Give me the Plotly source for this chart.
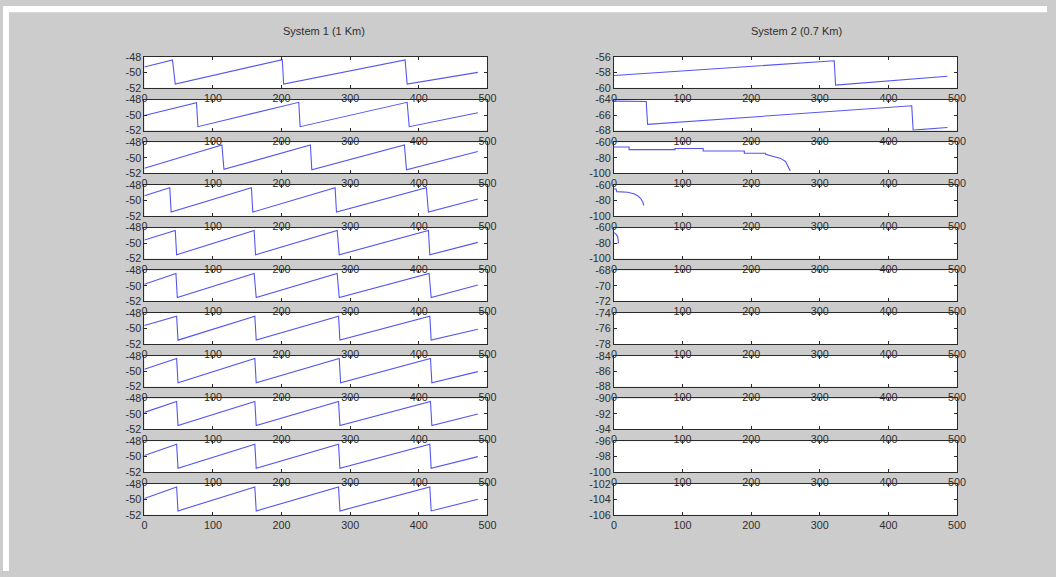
import plotly.graph_objects as go

W, H = 1056, 577

# ---------------- data ----------------
x_tick_vals = [0, 100, 200, 300, 400, 500]
x_tick_text = ["0", "100", "200", "300", "400", "500"]

titles = ["System 1 (1 Km)", "System 2 (0.7 Km)"]

# System 1 (left column) - sawtooth traces, vertices (x, dB)
s1_r1_x = [0, 41, 45, 201, 203, 380, 383, 486]
s1_r1_y = [-49.3, -48.4, -51.5, -48.35, -51.5, -48.4, -51.5, -50.0]
s1_r2_x = [0, 76, 78, 225, 227, 383, 386, 486]
s1_r2_y = [-50.05, -48.4, -51.5, -48.35, -51.5, -48.35, -51.5, -49.7]
s1_r3_x = [0, 113, 116, 242, 244, 379, 382, 486]
s1_r3_y = [-51.35, -48.35, -51.5, -48.35, -51.55, -48.35, -51.55, -49.2]
s1_r4_x = [0, 37, 39, 156, 158, 278, 280, 411, 414, 486]
s1_r4_y = [-49.4, -48.35, -51.5, -48.35, -51.5, -48.35, -51.5, -48.35, -51.5, -49.8]
s1_r5_x = [0, 45, 47, 160, 162, 281, 284, 414, 416, 486]
s1_r5_y = [-49.6, -48.35, -51.5, -48.35, -51.5, -48.35, -51.5, -48.35, -51.5, -49.9]
s1_r6_x = [0, 46, 48, 160, 163, 281, 284, 415, 418, 486]
s1_r6_y = [-49.8, -48.4, -51.5, -48.4, -51.5, -48.4, -51.5, -48.4, -51.5, -49.9]
s1_r7_x = [0, 47, 49, 161, 163, 283, 285, 416, 418, 486]
s1_r7_y = [-49.6, -48.4, -51.5, -48.4, -51.5, -48.4, -51.5, -48.4, -51.5, -50.1]
s1_r8_x = [0, 47, 49, 161, 163, 284, 286, 417, 419, 486]
s1_r8_y = [-49.75, -48.35, -51.5, -48.35, -51.5, -48.35, -51.5, -48.35, -51.5, -50.05]
s1_r9_x = [0, 47, 49, 161, 163, 283, 285, 417, 419, 486]
s1_r9_y = [-49.8, -48.4, -51.5, -48.4, -51.5, -48.4, -51.5, -48.4, -51.5, -50.0]
s1_r10_x = [0, 47, 49, 161, 163, 283, 285, 416, 418, 486]
s1_r10_y = [-49.85, -48.4, -51.5, -48.4, -51.5, -48.4, -51.5, -48.4, -51.5, -50.0]
s1_r11_x = [0, 47, 49, 161, 163, 283, 285, 416, 418, 486]
s1_r11_y = [-49.9, -48.4, -51.5, -48.4, -51.5, -48.4, -51.5, -48.4, -51.5, -50.0]

# System 2 (right column)
s2_r1_x = [0, 321, 323, 486]
s2_r1_y = [-58.4, -56.5, -59.65, -58.5]
s2_r2_x = [0, 47, 49, 434, 436, 486]
s2_r2_y = [-64.2, -64.25, -67.2, -64.8, -67.95, -67.6]
s2_r3_x = [0, 22, 22, 89, 89, 130, 130, 190, 190, 221, 221, 233, 243, 250, 254, 257]
s2_r3_y = [-66.0, -66.0, -69.5, -69.5, -68.0, -68.0, -71.2, -71.2, -74.2, -74.2, -75.5, -78.3, -80.8, -84.8, -91.0, -97.0]
s2_r4_x = [0, 3, 4, 20, 29, 35, 39, 42, 43.5]
s2_r4_y = [-65.2, -65.2, -68.6, -69.3, -71.2, -74.2, -77.5, -82.0, -86.5]
s2_r5_x = [0.5, 1.5, 3.5, 5.5, 6.5, 6.5, 5.5]
s2_r5_y = [-66.5, -67.2, -69.0, -72.0, -75.5, -79.0, -80.5]

sys1_series = [(s1_r1_x, s1_r1_y), (s1_r2_x, s1_r2_y), (s1_r3_x, s1_r3_y), (s1_r4_x, s1_r4_y),
               (s1_r5_x, s1_r5_y), (s1_r6_x, s1_r6_y), (s1_r7_x, s1_r7_y), (s1_r8_x, s1_r8_y),
               (s1_r9_x, s1_r9_y), (s1_r10_x, s1_r10_y), (s1_r11_x, s1_r11_y)]
sys2_series = [(s2_r1_x, s2_r1_y), (s2_r2_x, s2_r2_y), (s2_r3_x, s2_r3_y), (s2_r4_x, s2_r4_y),
               (s2_r5_x, s2_r5_y), None, None, None, None, None, None]

# y-axis tick values per row (bottom, middle, top)
sys1_y_ticks = [[-52, -50, -48]] * 11
sys2_y_ticks = [[-60, -58, -56], [-68, -66, -64], [-100, -80, -60], [-100, -80, -60],
                [-100, -80, -60], [-72, -70, -68], [-78, -76, -74], [-88, -86, -84],
                [-94, -92, -90], [-100, -98, -96], [-106, -104, -102]]

# ---------------- layout geometry (pixels) ----------------
col_px = [(143, 490), (618, 965)]
row_top0, row_pitch, row_h = 52, 43.6, 31.6
FONT = "Liberation Sans, Arial, sans-serif"
AX = "#2a2a2a"
TXT = "#2e2e2e"
LINE = "rgb(85,85,240)"
BG = "#cccccc"

fig = go.Figure()
layout = {}
n = 0
for col, (series_list, yticks_list) in enumerate([(sys1_series, sys1_y_ticks), (sys2_series, sys2_y_ticks)]):
    x0p, x1p = col_px[col]
    for r in range(11):
        n += 1
        top = row_top0 + r * row_pitch
        bot = top + row_h
        xd = [x0p / W, x1p / W]
        yd = [1 - bot / H, 1 - top / H]
        yt = yticks_list[r]
        common = dict(ticks="inside", ticklen=3, tickwidth=1, tickcolor=AX,
                      showline=True, linecolor=AX, linewidth=1, mirror="ticks",
                      showgrid=False, zeroline=False, fixedrange=True,
                      tickfont=dict(family=FONT, size=10.8, color=TXT))
        layout[f"xaxis{n}"] = dict(domain=xd, range=[0, 500], anchor=f"y{n}",
                                   tickvals=x_tick_vals, ticktext=x_tick_text, **common)
        layout[f"yaxis{n}"] = dict(domain=yd, range=[yt[0], yt[2]], anchor=f"x{n}",
                                   tickvals=yt, ticktext=[str(v) for v in yt], **common)
        s = series_list[r]
        if s is not None:
            fig.add_trace(go.Scatter(x=s[0], y=s[1], mode="lines",
                                     line=dict(color=LINE, width=1.1),
                                     xaxis=f"x{n}", yaxis=f"y{n}",
                                     showlegend=False, hoverinfo="skip"))
        else:
            fig.add_trace(go.Scatter(x=[], y=[], mode="lines", xaxis=f"x{n}", yaxis=f"y{n}",
                                     showlegend=False, hoverinfo="skip"))

title_px = [(325, 26), (803, 26)]
annotations = []
for t, (tx, ty) in zip(titles, title_px):
    annotations.append(dict(text=t, x=tx / W, y=1 - ty / H, xref="paper", yref="paper",
                            showarrow=False, xanchor="center", yanchor="middle",
                            font=dict(family=FONT, size=11, color=TXT)))

# thin white strips along the top and left edges, as in the reference screenshot
shapes = [
    dict(type="rect", xref="paper", yref="paper", x0=0, x1=1, y0=1 - 6.5 / H, y1=1,
         fillcolor="white", line=dict(width=0), layer="above"),
    dict(type="rect", xref="paper", yref="paper", x0=0, x1=6 / W, y0=0, y1=1,
         fillcolor="white", line=dict(width=0), layer="above"),
]

fig.update_layout(width=W, height=H, margin=dict(l=0, r=0, t=0, b=0),
                  paper_bgcolor=BG, plot_bgcolor="white",
                  annotations=annotations, shapes=shapes, showlegend=False,
                  **layout)

fig.write_html("out.html", config={"displayModeBar": False})
